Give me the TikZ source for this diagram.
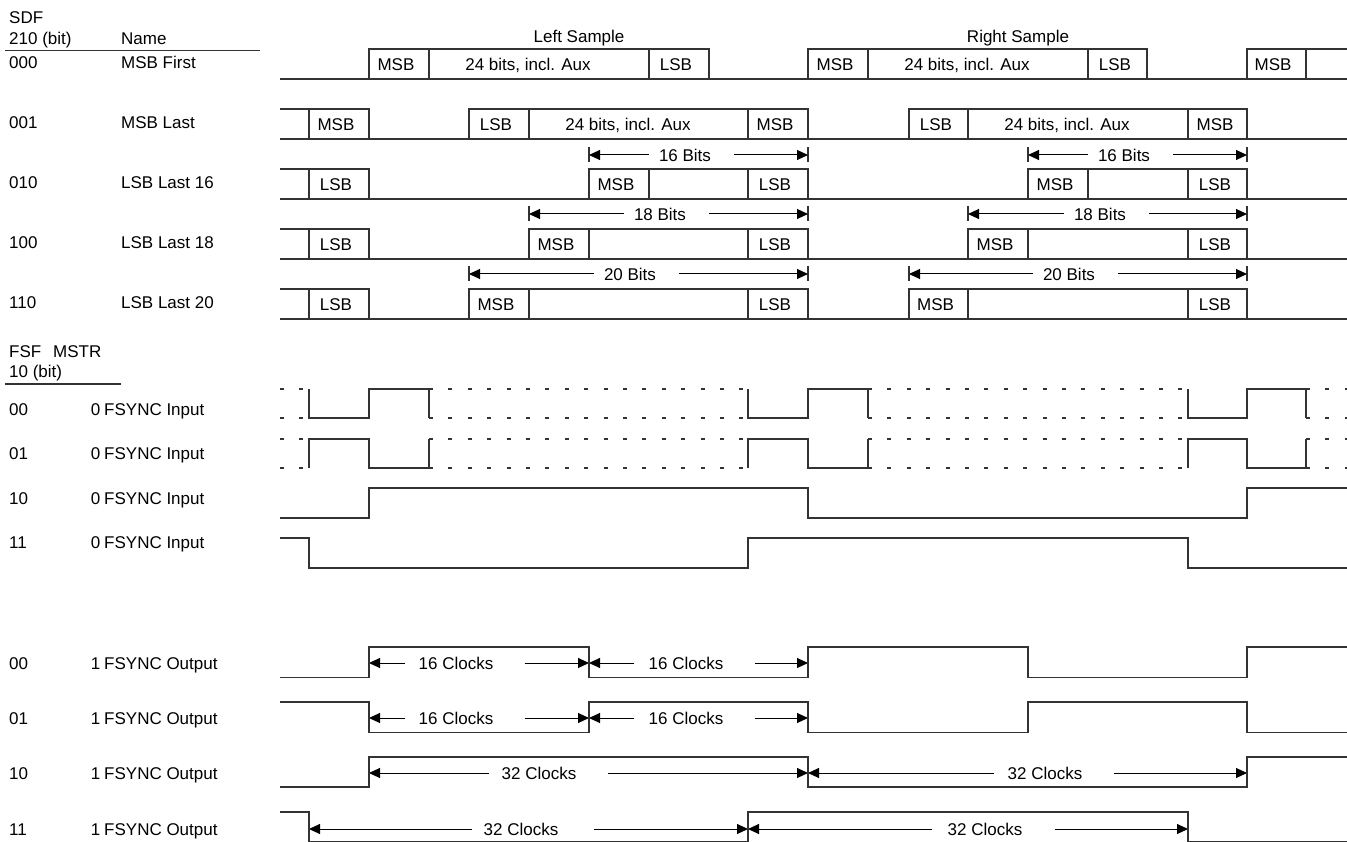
\documentclass[tikz,border=0pt]{standalone}
\usepackage{fontspec}
\setmainfont{Liberation Sans}
\usetikzlibrary{arrows.meta}
\begin{document}
\begin{tikzpicture}[x=1pt,y=-1pt,
  sig/.style={draw=black!80,line width=1.1pt},
  dc/.style={draw=black!80,line width=1.1pt,dash pattern=on 4pt off 15.4pt},
  txt/.style={inner sep=0pt,text height=12.2pt,text depth=0pt,font=\fontsize{17}{20}\selectfont},
  ar/.style={draw=black,line width=1pt,-{Triangle[length=11pt,width=10pt]}},
  tickln/.style={draw=black!80,line width=1.1pt}]
\useasboundingbox (0,0) rectangle (1347,842);

% ---------- header ----------
\node[txt,anchor=west] (hSDF) at (9,17.5) {SDF};
\node[txt,anchor=west] (hbit) at (9,38) {210 (bit)};
\node[txt,anchor=west] (hName) at (121,38) {Name};
\draw[sig] (5,50.5) -- (260,50.5);
\node[txt] (hLeft) at (579,36) {Left Sample};
\node[txt] (hRight) at (1018,36) {Right Sample};

\foreach \c/\n/\y [count=\i] in {000/MSB First/62, 001/MSB Last/122, 010/LSB Last 16/182, 100/LSB Last 18/242, 110/LSB Last 20/302} {
  \node[txt,anchor=west] (rc\i) at (9,\y) {\c};
  \node[txt,anchor=west] (rn\i) at (121,\y) {\n};
}

% ---------- row 000 ----------
\draw[sig] (280,79) -- (1347,79);
\draw[sig] (369,79) |- (709,49) -- (709,79);
\draw[sig] (429,49) -- (429,79) (649,49) -- (649,79);
\draw[sig] (808,79) |- (1147,49) -- (1147,79);
\draw[sig] (868,49) -- (868,79) (1088,49) -- (1088,79);
\draw[sig] (1247,79) |- (1347,49);
\draw[sig] (1306,49) -- (1306,79);
\node[txt] (r1a) at (396,64) {MSB};
\node[txt] (r1b) at (528,64) {24 bits, incl. Aux};
\node[txt] (r1c) at (676,64) {LSB};
\node[txt] (r1d) at (835,64) {MSB};
\node[txt] (r1e) at (967,64) {24 bits, incl. Aux};
\node[txt] (r1f) at (1115,64) {LSB};
\node[txt] (r1g) at (1273,64) {MSB};

% ---------- row 001 ----------
\draw[sig] (280,139) -- (1347,139);
\draw[sig] (280,109) -| (369,139);
\draw[sig] (309,109) -- (309,139);
\draw[sig] (469,139) |- (808,109) -- (808,139);
\draw[sig] (529,109) -- (529,139) (748,109) -- (748,139);
\draw[sig] (909,139) |- (1247,109) -- (1247,139);
\draw[sig] (968,109) -- (968,139) (1188,109) -- (1188,139);
\node[txt] (r2a) at (336,124) {MSB};
\node[txt] (r2b) at (496,124) {LSB};
\node[txt] (r2c) at (628,124) {24 bits, incl. Aux};
\node[txt] (r2d) at (775,124) {MSB};
\node[txt] (r2e) at (936,124) {LSB};
\node[txt] (r2f) at (1067,124) {24 bits, incl. Aux};
\node[txt] (r2g) at (1215,124) {MSB};

% ---------- rows 010, 100, 110 ----------
\foreach \t/\ms/\mr/\ns/\nr/\k in {169/589/649/1028/1088/3, 229/529/589/968/1028/4, 289/469/529/909/968/5} {
  \pgfmathsetmacro{\bt}{\t+30}
  \pgfmathsetmacro{\cy}{\t+15}
  \draw[sig] (280,\bt) -- (1347,\bt);
  \draw[sig] (280,\t) -| (369,\bt);
  \draw[sig] (309,\t) -- (309,\bt);
  \draw[sig] (\ms,\bt) |- (808,\t) -- (808,\bt);
  \draw[sig] (\mr,\t) -- (\mr,\bt) (748,\t) -- (748,\bt);
  \draw[sig] (\ns,\bt) |- (1247,\t) -- (1247,\bt);
  \draw[sig] (\nr,\t) -- (\nr,\bt) (1188,\t) -- (1188,\bt);
  \node[txt] (r\k a) at (336,\cy) {LSB};
  \node[txt] (r\k b) at ({(\ms+\mr)/2-3},\cy) {MSB};
  \node[txt] (r\k c) at (775,\cy) {LSB};
  \node[txt] (r\k d) at ({(\ns+\nr)/2-3},\cy) {MSB};
  \node[txt] (r\k e) at (1215,\cy) {LSB};
}

% bit-width arrows with end ticks
\foreach \x/\y in {589/155, 808/155, 1028/155, 1247/155, 529/214, 808/214, 968/214, 1247/214, 469/274, 808/274, 909/274, 1247/274} {
  \draw[tickln] (\x,\y-7.5) -- (\x,\y+7.5);
}
\foreach \id/\xs/\xe/\y/\xl/\t/\gl/\gr in {
  b1/589/808/155/685/16 Bits/10pt/23pt,
  b2/1028/1247/155/1124/16 Bits/10pt/23pt,
  b3/529/808/214/660/18 Bits/10pt/23pt,
  b4/968/1247/214/1100/18 Bits/10pt/23pt,
  b5/469/808/274/630/20 Bits/10pt/23pt,
  b6/909/1247/274/1069/20 Bits/10pt/23pt,
  c1/369/589/663/456/16 Clocks/13pt/31pt,
  c2/589/808/663/686/16 Clocks/14pt/31pt,
  c3/369/589/718/456/16 Clocks/13pt/31pt,
  c4/589/808/718/686/16 Clocks/14pt/31pt,
  c5/369/808/773/539/32 Clocks/12pt/31pt,
  c6/808/1247/773/1045/32 Clocks/13pt/31pt,
  c7/309/748/829/521/32 Clocks/11pt/35pt,
  c8/748/1188/829/985/32 Clocks/15pt/32pt} {
  \coordinate (\id-s) at (\xs,\y);
  \coordinate (\id-e) at (\xe,\y);
  \node[txt] (\id) at (\xl,\y) {\t};
  \draw[ar,shorten <=\gl] (\id.west) -- (\id-s);
  \draw[ar,shorten <=\gr] (\id.east) -- (\id-e);
}

% ---------- FSYNC header ----------
\node[txt,anchor=west] (fFSF) at (9,351) {FSF};
\node[txt,anchor=west] (fMSTR) at (53,351) {MSTR};
\node[txt,anchor=west] (fbit) at (9,371) {10 (bit)};
\draw[sig] (5,384) -- (121,384);

\foreach \c/\m/\n/\y [count=\i] in {00/0/FSYNC Input/409, 01/0/FSYNC Input/453, 10/0/FSYNC Input/498, 11/0/FSYNC Input/542, 00/1/FSYNC Output/663, 01/1/FSYNC Output/718, 10/1/FSYNC Output/773, 11/1/FSYNC Output/829} {
  \node[txt,anchor=west] (fc\i) at (9,\y) {\c};
  \node[txt] (fm\i) at (95.5,\y) {\m};
  \node[txt,anchor=west] (fn\i) at (104,\y) {\n};
}

% ---------- FSYNC input waveforms ----------
\foreach \a/\b/\c in {309/369/429, 748/808/868, 1188/1247/1306} {
  \draw[sig] (\a,389) -- (\a,418) -- (\b,418) -- (\b,389) -- (\c,389) -- (\c,418);
  \draw[sig] (\a,468) -- (\a,439) -- (\b,439) -- (\b,468) -- (\c,468) -- (\c,439);
}
\foreach \p/\q in {280/309, 429/748, 868/1188, 1306/1347} {
  \draw[dc] (\p,389) -- (\q,389);
  \draw[dc] (\p,418) -- (\q,418);
  \draw[dc] (\p,439) -- (\q,439);
  \draw[dc] (\p,468) -- (\q,468);
}
\draw[sig] (280,518) -- (369,518) -- (369,488) -- (808,488) -- (808,518) -- (1247,518) -- (1247,488) -- (1347,488);
\draw[sig] (280,538) -- (309,538) -- (309,568) -- (748,568) -- (748,538) -- (1188,538) -- (1188,568) -- (1347,568);

% ---------- FSYNC output waveforms ----------
\draw[sig] (280,677.5) -- (369,677.5) -- (369,647) -- (589,647) -- (589,677.5) -- (808,677.5) -- (808,647) -- (1028,647) -- (1028,677.5) -- (1247,677.5) -- (1247,647) -- (1347,647);
\draw[sig] (280,702) -- (369,702) -- (369,732.5) -- (589,732.5) -- (589,702) -- (808,702) -- (808,732.5) -- (1028,732.5) -- (1028,702) -- (1247,702) -- (1247,732.5) -- (1347,732.5);
\draw[sig] (280,787) -- (369,787) -- (369,757) -- (808,757) -- (808,787) -- (1247,787) -- (1247,757) -- (1347,757);
\draw[sig] (280,812) -- (309,812) -- (309,842) -- (748,842) -- (748,812) -- (1188,812) -- (1188,842) -- (1347,842);
\end{tikzpicture}
\end{document}
